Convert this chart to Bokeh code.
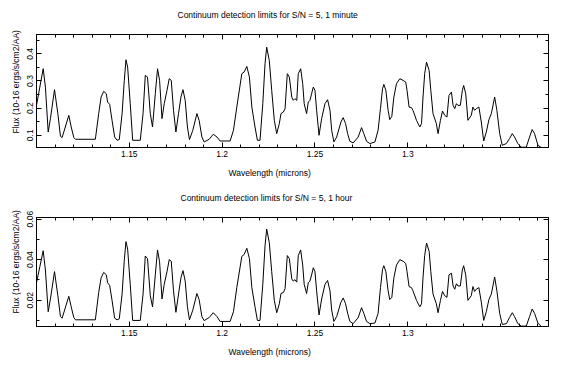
from bokeh.plotting import figure
from bokeh.layouts import column
from bokeh.models import (LinearAxis, Range1d, FixedTicker, CustomJSTickFormatter,
                          CustomLabelingPolicy, Title)
from bokeh.embed import file_html
from bokeh.resources import INLINE

wavelength = [
    1.1000, 1.1018, 1.1036, 1.1048, 1.1063, 1.1075, 1.1097, 1.1115, 1.1129, 1.1138,
    1.1174, 1.1187, 1.1201, 1.1210, 1.1317, 1.1335, 1.1348, 1.1362, 1.1376, 1.1383,
    1.1394, 1.1407, 1.1421, 1.1434, 1.1446, 1.1461, 1.1473, 1.1482, 1.1491, 1.1505,
    1.1518, 1.1559, 1.1574, 1.1586, 1.1598, 1.1613, 1.1625, 1.1640, 1.1652, 1.1663,
    1.1676, 1.1688, 1.1703, 1.1715, 1.1726, 1.1738, 1.1751, 1.1765, 1.1778, 1.1789,
    1.1801, 1.1813, 1.1824, 1.1842, 1.1864, 1.1876, 1.1891, 1.1903, 1.1930, 1.1952,
    1.1972, 1.1989, 1.2043, 1.2061, 1.2079, 1.2106, 1.2118, 1.2133, 1.2147, 1.2160,
    1.2177, 1.2190, 1.2204, 1.2219, 1.2231, 1.2240, 1.2254, 1.2267, 1.2281, 1.2294,
    1.2308, 1.2317, 1.2330, 1.2339, 1.2351, 1.2362, 1.2375, 1.2383, 1.2392, 1.2402,
    1.2410, 1.2423, 1.2434, 1.2442, 1.2455, 1.2464, 1.2473, 1.2482, 1.2491, 1.2500,
    1.2509, 1.2522, 1.2536, 1.2554, 1.2568, 1.2581, 1.2590, 1.2602, 1.2617, 1.2640,
    1.2652, 1.2665, 1.2676, 1.2688, 1.2706, 1.2733, 1.2751, 1.2763, 1.2778, 1.2796,
    1.2823, 1.2840, 1.2853, 1.2864, 1.2871, 1.2882, 1.2894, 1.2903, 1.2914, 1.2925,
    1.2939, 1.2957, 1.2975, 1.2989, 1.2996, 1.3007, 1.3020, 1.3028, 1.3047, 1.3065,
    1.3074, 1.3082, 1.3091, 1.3101, 1.3115, 1.3124, 1.3136, 1.3154, 1.3163, 1.3176,
    1.3187, 1.3199, 1.3211, 1.3222, 1.3235, 1.3244, 1.3253, 1.3262, 1.3270, 1.3283,
    1.3294, 1.3301, 1.3312, 1.3324, 1.3342, 1.3351, 1.3360, 1.3369, 1.3383, 1.3396,
    1.3409, 1.3423, 1.3437, 1.3450, 1.3468, 1.3480, 1.3495, 1.3509, 1.3531, 1.3548,
    1.3563, 1.3575, 1.3593, 1.3611, 1.3638, 1.3656, 1.3670, 1.3683, 1.3701, 1.3719,
    1.3758,
]

flux_1_minute = [
    0.2103, 0.2776, 0.3452, 0.2776, 0.1121, 0.1614, 0.2680, 0.1798, 0.0963, 0.0915,
    0.1735, 0.1305, 0.0915, 0.0853, 0.0853, 0.1798, 0.2408, 0.2617, 0.2533, 0.2224,
    0.2140, 0.1551, 0.0938, 0.0816, 0.0842, 0.1798, 0.3022, 0.3783, 0.3511, 0.2165,
    0.0816, 0.0816, 0.1798, 0.3206, 0.3143, 0.1798, 0.1305, 0.2533, 0.3452, 0.3022,
    0.1614, 0.2165, 0.2654, 0.3084, 0.3022, 0.1919, 0.1121, 0.1798, 0.2408, 0.2680,
    0.2287, 0.1305, 0.0842, 0.1184, 0.1798, 0.1551, 0.0938, 0.0754, 0.0853, 0.1037,
    0.0938, 0.0790, 0.0790, 0.1184, 0.2040, 0.3268, 0.3327, 0.3536, 0.3143, 0.2040,
    0.1305, 0.0816, 0.0816, 0.2165, 0.3636, 0.4246, 0.3757, 0.2654, 0.1551, 0.1062,
    0.1430, 0.1798, 0.1857, 0.1981, 0.3268, 0.3143, 0.2408, 0.2287, 0.2349, 0.2287,
    0.3268, 0.3452, 0.2900, 0.2165, 0.1798, 0.2224, 0.2287, 0.2533, 0.2776, 0.2654,
    0.1919, 0.1000, 0.1614, 0.2165, 0.2312, 0.1919, 0.1184, 0.0754, 0.0938, 0.1489,
    0.1651, 0.1430, 0.1062, 0.0779, 0.0717, 0.0938, 0.1283, 0.1062, 0.0779, 0.0695,
    0.0754, 0.1184, 0.1993, 0.2717, 0.2875, 0.2654, 0.1919, 0.1577, 0.1698, 0.2408,
    0.2900, 0.3084, 0.3022, 0.2959, 0.2654, 0.2040, 0.2018, 0.1919, 0.1551, 0.1305,
    0.1430, 0.2408, 0.3268, 0.3694, 0.3389, 0.2654, 0.1798, 0.1430, 0.1062, 0.1551,
    0.1893, 0.1735, 0.1673, 0.2470, 0.2592, 0.2103, 0.1981, 0.2165, 0.2103, 0.2103,
    0.2654, 0.2838, 0.2533, 0.1551, 0.1735, 0.2040, 0.1919, 0.1981, 0.2040, 0.1489,
    0.0790, 0.1121, 0.1577, 0.1798, 0.2408, 0.1919, 0.1062, 0.0632, 0.0695, 0.0879,
    0.1062, 0.0938, 0.0695, 0.0560, 0.0560, 0.0938, 0.1210, 0.1062, 0.0632, 0.0550,
    0.0550,
]

flux_1_hour = [
    0.0286, 0.0365, 0.0444, 0.0349, 0.0143, 0.0206, 0.0341, 0.0222, 0.0119, 0.0111,
    0.0219, 0.0167, 0.0114, 0.0103, 0.0103, 0.0238, 0.0310, 0.0337, 0.0325, 0.0286,
    0.0273, 0.0199, 0.0111, 0.0103, 0.0108, 0.0230, 0.0397, 0.0489, 0.0452, 0.0278,
    0.0100, 0.0100, 0.0230, 0.0418, 0.0405, 0.0222, 0.0167, 0.0325, 0.0448, 0.0389,
    0.0206, 0.0278, 0.0341, 0.0400, 0.0392, 0.0246, 0.0140, 0.0230, 0.0310, 0.0346,
    0.0294, 0.0167, 0.0103, 0.0151, 0.0233, 0.0203, 0.0119, 0.0099, 0.0114, 0.0138,
    0.0119, 0.0095, 0.0095, 0.0143, 0.0262, 0.0416, 0.0425, 0.0456, 0.0405, 0.0262,
    0.0167, 0.0100, 0.0100, 0.0278, 0.0468, 0.0551, 0.0484, 0.0341, 0.0199, 0.0138,
    0.0182, 0.0233, 0.0238, 0.0257, 0.0420, 0.0405, 0.0305, 0.0294, 0.0301, 0.0289,
    0.0420, 0.0448, 0.0373, 0.0278, 0.0233, 0.0286, 0.0294, 0.0325, 0.0360, 0.0341,
    0.0246, 0.0127, 0.0206, 0.0278, 0.0297, 0.0246, 0.0151, 0.0095, 0.0119, 0.0190,
    0.0211, 0.0182, 0.0135, 0.0095, 0.0084, 0.0114, 0.0163, 0.0135, 0.0095, 0.0084,
    0.0087, 0.0135, 0.0262, 0.0352, 0.0370, 0.0341, 0.0246, 0.0203, 0.0214, 0.0310,
    0.0373, 0.0400, 0.0392, 0.0381, 0.0341, 0.0267, 0.0262, 0.0246, 0.0199, 0.0167,
    0.0182, 0.0310, 0.0420, 0.0482, 0.0441, 0.0341, 0.0230, 0.0182, 0.0138, 0.0199,
    0.0243, 0.0222, 0.0214, 0.0325, 0.0333, 0.0270, 0.0254, 0.0281, 0.0270, 0.0270,
    0.0349, 0.0370, 0.0325, 0.0199, 0.0222, 0.0267, 0.0243, 0.0254, 0.0262, 0.0190,
    0.0100, 0.0143, 0.0203, 0.0230, 0.0314, 0.0246, 0.0135, 0.0080, 0.0084, 0.0114,
    0.0138, 0.0119, 0.0084, 0.0072, 0.0072, 0.0119, 0.0156, 0.0135, 0.0087, 0.0070,
    0.0070,
]

titles = ["Continuum detection limits for S/N = 5, 1 minute",
          "Continuum detection limits for S/N = 5, 1 hour"]
x_label = "Wavelength (microns)"
y_label = "Flux (10-16 ergs/s/cm2/AA)"
x_major = [1.15, 1.2, 1.25, 1.3]
x_minor = [round(1.10 + 0.01 * i, 2) for i in range(28)]
y_major_top = [0.1, 0.2, 0.3, 0.4]
y_minor_top = [0.05, 0.1, 0.15, 0.2, 0.25, 0.3, 0.35, 0.4, 0.45]
y_major_bot = [0.02, 0.04, 0.06]
y_minor_bot = [0.01, 0.02, 0.03, 0.04, 0.05, 0.06]

FONT = "Liberation Sans"
FS = "8.5px"
fmt = CustomJSTickFormatter(code="return String(Number(tick.toFixed(4)));")


def style_axis(ax, show_labels):
    ax.axis_line_color = "black"
    ax.major_tick_line_color = "black"
    ax.minor_tick_line_color = "black"
    ax.major_tick_in = 5
    ax.major_tick_out = 0
    ax.minor_tick_in = 3
    ax.minor_tick_out = 0
    ax.major_label_text_font = FONT
    ax.major_label_text_color = "black"
    ax.major_label_text_font_size = FS
    if not show_labels:
        ax.major_label_policy = CustomLabelingPolicy(code="")
        ax.major_label_standoff = 0


def text_title(text, offset, standoff):
    return Title(text=text, align="left", offset=offset, standoff=standoff,
                 text_font=FONT, text_font_size=FS, text_font_style="normal",
                 text_color="black")


def panel(title, title_off, flux, yr, ymaj, ymin, height, btop, bbot, ylab_off):
    p = figure(width=568, height=height,
               x_range=Range1d(1.1, 1.3758), y_range=Range1d(*yr),
               output_backend="svg", toolbar_location=None,
               min_border_left=36, min_border_right=13,
               min_border_top=btop, min_border_bottom=bbot,
               title=text_title(title, title_off, 12))
    p.xgrid.visible = False
    p.ygrid.visible = False
    p.outline_line_color = "black"
    p.outline_line_alpha = 1

    xt = FixedTicker(ticks=x_major, minor_ticks=x_minor)
    yt = FixedTicker(ticks=ymaj, minor_ticks=ymin)

    xa = p.xaxis[0]
    xa.ticker = xt
    xa.formatter = fmt
    style_axis(xa, True)
    xa.major_label_standoff = 3

    ya = p.yaxis[0]
    ya.ticker = yt
    ya.formatter = fmt
    style_axis(ya, True)
    ya.major_label_orientation = "parallel"
    ya.major_label_standoff = 3

    top = LinearAxis(ticker=xt)
    style_axis(top, False)
    p.add_layout(top, "above")
    right = LinearAxis(ticker=yt)
    style_axis(right, False)
    p.add_layout(right, "right")

    p.add_layout(text_title(x_label, 192, 12), "below")
    p.add_layout(text_title(y_label, ylab_off, 8), "left")

    p.line(wavelength, flux, line_color="black", line_width=1)
    return p


p1 = panel(titles[0], 141, flux_1_minute, (0.055, 0.4713), y_major_top, y_minor_top,
           184, 34, 37, 14)
p2 = panel(titles[1], 144, flux_1_hour, (0.0070, 0.0608), y_major_bot, y_minor_bot,
           182, 28, 40, 13)

layout = column(p1, p2, spacing=0)
open("out.html", "w").write(file_html(layout, INLINE))
